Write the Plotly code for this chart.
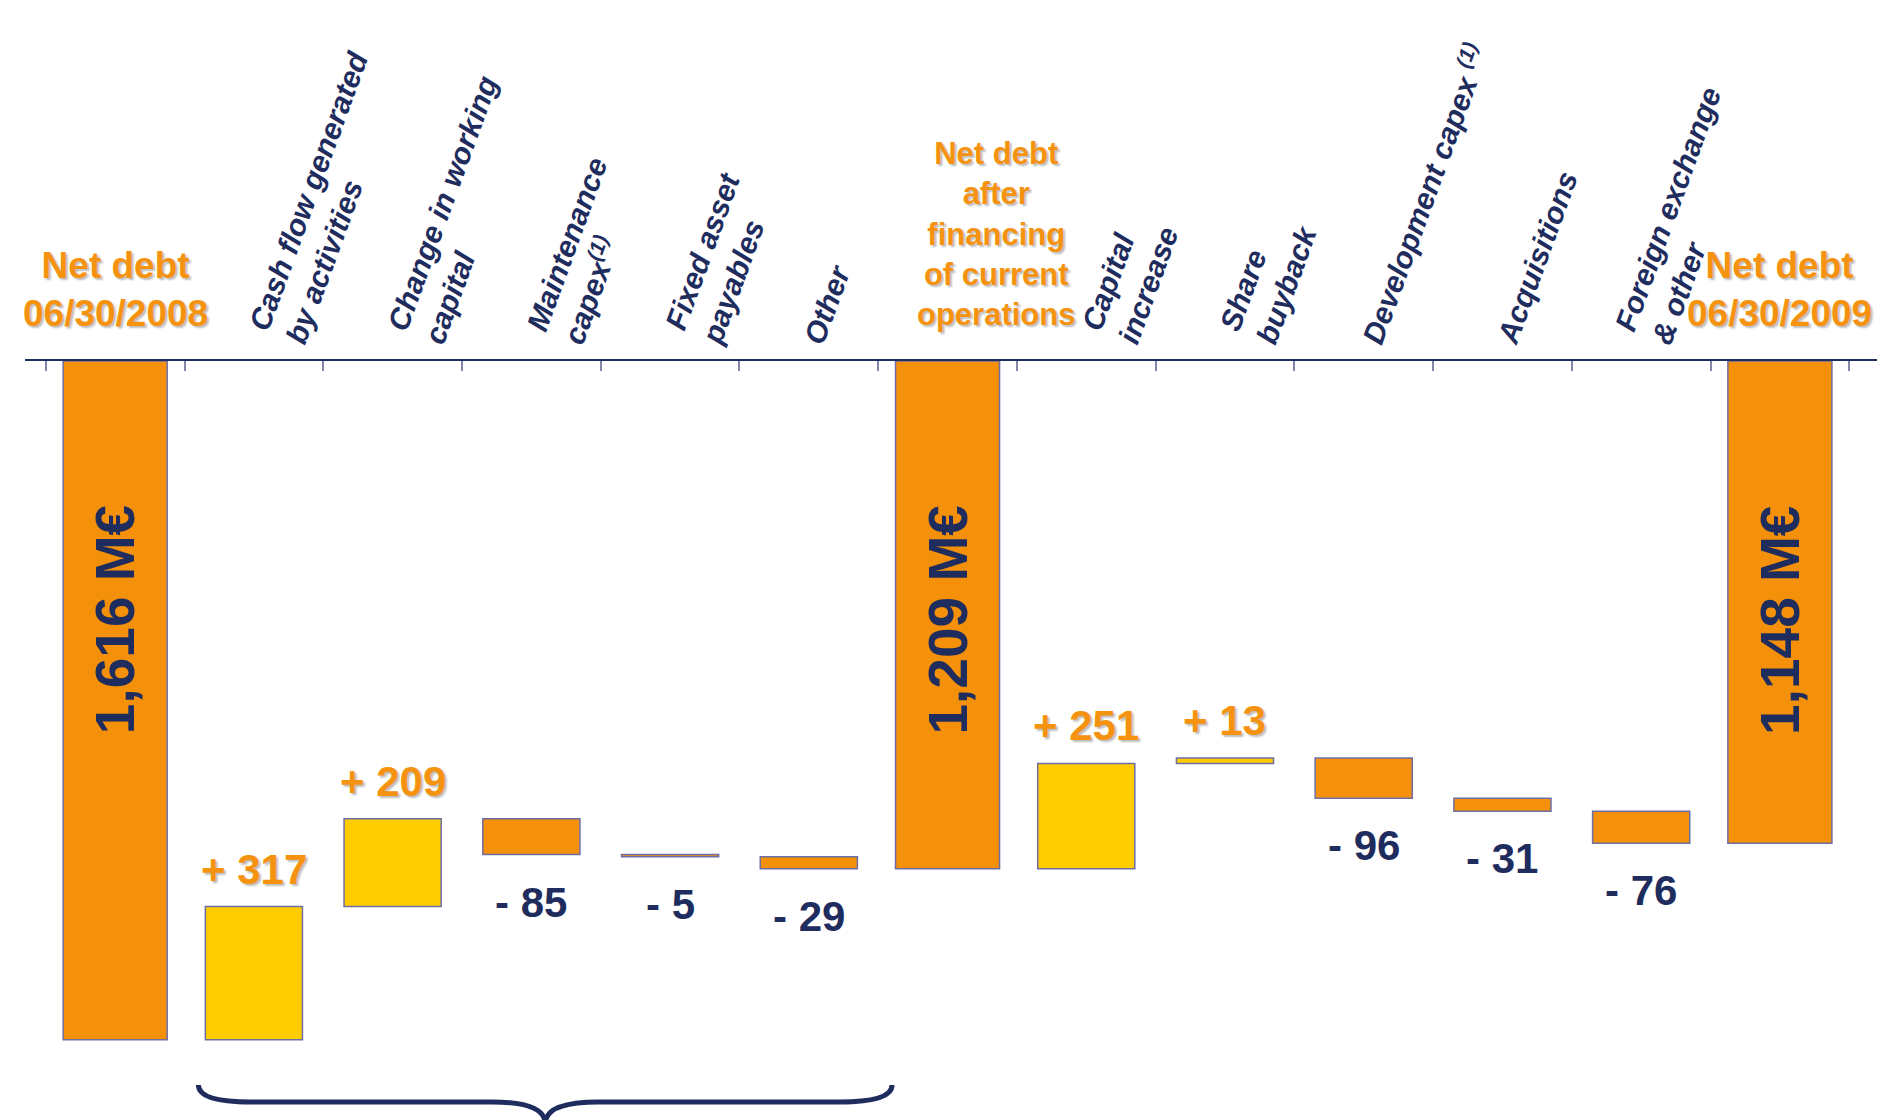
import plotly.graph_objects as go

# Net debt bridge, June 2008 -> June 2009 (M€)
categories = [
    "Net debt<br>06/30/2008",
    "Cash flow generated<br>by activities",
    "Change in working<br>capital",
    "Maintenance<br>capex<sup>(1)</sup>",
    "Fixed asset<br>payables",
    "Other",
    "Net debt<br>after<br>financing<br>of current<br>operations",
    "Capital<br>increase",
    "Share<br>buyback",
    "Development capex <sup>(1)</sup>",
    "Acquisitions",
    "Foreign exchange<br>& other",
    "Net debt<br>06/30/2009",
]
measures = ["absolute", "relative", "relative", "relative", "relative", "relative",
            "absolute", "relative", "relative", "relative", "relative", "relative",
            "absolute"]
# change in net debt (negative = debt reduced); absolute rows are net debt levels
values = [1616, -317, -209, 85, 5, 29, 1209, -251, -13, 96, 31, 76, 1148]

# items covered by the brace under "current operations"
brace_first, brace_last = 1, 5

NAVY = "#1F2D5E"
ORANGE = "#F5900A"
YELLOW = "#FFCC00"
EDGE = "#6E6EA6"
ORANGE_TEXT = "#F5920F"
SHADOW = "2px 2px 2px #BDBDBD"
FONT = "Liberation Sans, Arial, sans-serif"

W, H = 1889, 1120
TOP, LEFT, RIGHT = 361, 25, 12
Y_MAX = 1807  # net debt value at the bottom edge of the plot

# running net debt level after each step
levels = []
level = 0
for m, v in zip(measures, values):
    level = v if m == "absolute" else level + v
    levels.append(level)

widths = [0.75 if m == "absolute" else 0.70 for m in measures]
edge = dict(color=EDGE, width=1.5)

fig = go.Figure(go.Waterfall(
    x=categories,
    y=values,
    measure=measures,
    width=widths,
    increasing=dict(marker=dict(color=ORANGE, line=edge)),
    decreasing=dict(marker=dict(color=YELLOW, line=edge)),
    totals=dict(marker=dict(color=ORANGE, line=edge)),
    connector=dict(visible=False),
    textinfo="none",
    hoverinfo="skip",
))

annotations = []
last = len(categories) - 1
for i, (cat, m, v, lv) in enumerate(zip(categories, measures, values, levels)):
    if m == "absolute":
        # level written vertically inside the bar
        annotations.append(dict(
            x=i, y=1 - (620 - TOP) / (H - TOP), xref="x", yref="paper",
            text=f"{lv:,} M€", textangle=-90, showarrow=False,
            xanchor="center", yanchor="middle",
            font=dict(family=FONT, size=55, color=NAVY, weight="bold"),
        ))
        # horizontal orange heading above the axis
        end = i in (0, last)
        annotations.append(dict(
            x=i if end else i + 0.35, y=1, xref="x", yref="paper",
            text=cat, showarrow=False, align="center",
            xanchor="center", yanchor="bottom", yshift=25 if end else 27,
            font=dict(family=FONT, size=37 if end else 31, color=ORANGE_TEXT,
                      weight="bold", shadow=SHADOW),
        ))
    else:
        # slanted item name above the axis; the one beside the closing
        # heading leans a little further left to clear it
        nudge = -0.15 if i == last - 1 else 0.0
        annotations.append(dict(
            x=i - 0.1 + nudge, y=1, xref="x", yref="paper",
            text=cat, textangle=-70, showarrow=False, align="left",
            xanchor="left", yanchor="bottom", yshift=10,
            font=dict(family=FONT, size=30, color=NAVY, weight="bold", style="italic"),
        ))
        if v < 0:
            annotations.append(dict(
                x=i, y=lv, xref="x", yref="y",
                text=f"+ {-v}", showarrow=False,
                xanchor="center", yanchor="bottom", yshift=12,
                font=dict(family=FONT, size=42, color=ORANGE_TEXT, weight="bold",
                          shadow=SHADOW),
            ))
        else:
            annotations.append(dict(
                x=i, y=lv, xref="x", yref="y",
                text=f"- {v}", showarrow=False,
                xanchor="center", yanchor="top", yshift=-22,
                font=dict(family=FONT, size=42, color=NAVY, weight="bold"),
            ))

# curly brace grouping the current-operations items
bx0, bx1 = brace_first - 0.4, brace_last + 0.6
bxm = (bx0 + bx1) / 2
rx = 0.38
y_top = 1 - (1085 - TOP) / (H - TOP)
y_mid = 1 - (1102 - TOP) / (H - TOP)
y_tip = -0.005
brace = (
    f"M {bx0},{y_top} Q {bx0},{y_mid} {bx0 + rx},{y_mid} "
    f"L {bxm - rx},{y_mid} Q {bxm},{y_mid} {bxm},{y_tip} "
    f"Q {bxm},{y_mid} {bxm + rx},{y_mid} "
    f"L {bx1 - rx},{y_mid} Q {bx1},{y_mid} {bx1},{y_top}"
)

fig.update_layout(
    width=W, height=H,
    margin=dict(l=LEFT, r=RIGHT, t=TOP, b=0, pad=0),
    paper_bgcolor="white", plot_bgcolor="white",
    showlegend=False,
    annotations=annotations,
    shapes=[dict(type="path", path=brace, xref="x", yref="paper",
                 line=dict(color=NAVY, width=5), fillcolor="rgba(0,0,0,0)")],
    xaxis=dict(
        type="category", side="top", range=[-0.65, 12.7],
        showline=True, linecolor=NAVY, linewidth=1.5,
        ticks="inside", tickson="boundaries", ticklen=10, tickwidth=1.5,
        tickcolor="#7F86A8", showticklabels=False, showgrid=False, zeroline=False,
        fixedrange=True,
    ),
    yaxis=dict(
        range=[Y_MAX, 0], visible=False, showgrid=False, zeroline=False,
        fixedrange=True,
    ),
)

fig.write_html("out.html")
